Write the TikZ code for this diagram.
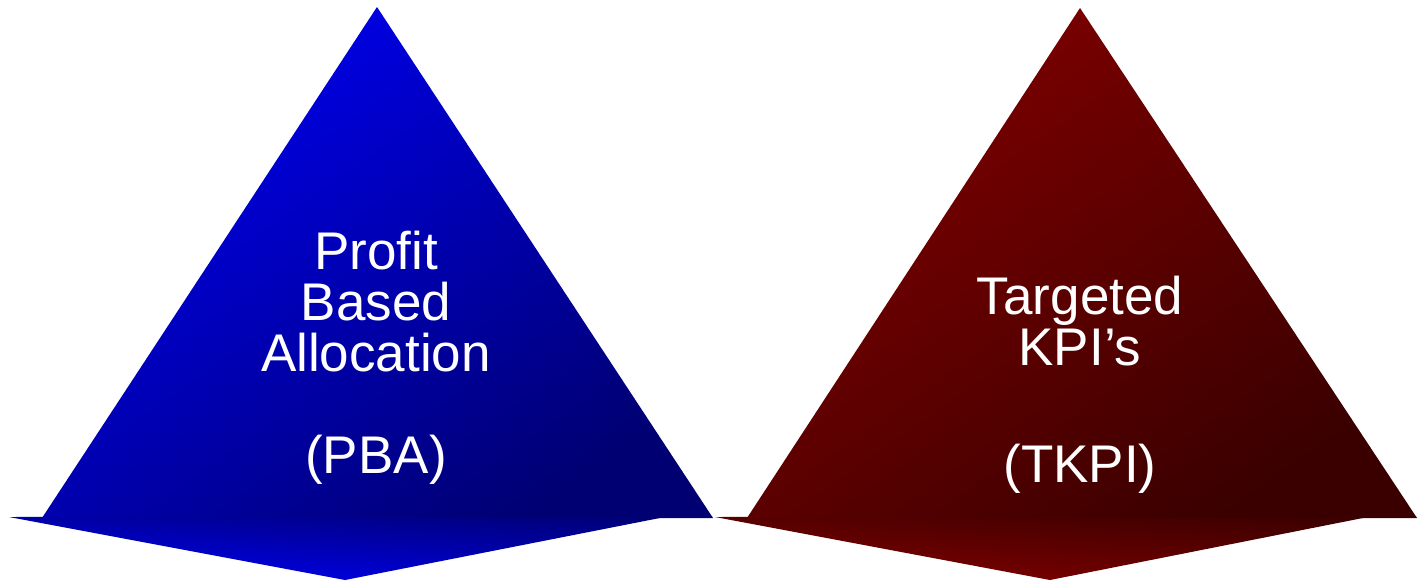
\documentclass[tikz,border=0pt]{standalone}
\usepackage{fontspec}
\setmainfont{Liberation Sans}
\usepackage{tikz}
\usetikzlibrary{positioning}
\definecolor{brightblue}{RGB}{0,0,240}
\definecolor{navy}{RGB}{0,0,115}
\definecolor{brightred}{RGB}{128,0,0}
\definecolor{darkred}{RGB}{58,0,0}

\begin{document}
\begin{tikzpicture}[x=1pt,y=-1pt,
bluetri/.style={top color=brightblue,bottom color=navy,shading angle=35},
bluebase/.style={top color=navy,bottom color=brightblue,shading angle=-4},
redtri/.style={top color=brightred,bottom color=darkred,shading angle=35},
redbase/.style={top color=darkred,bottom color=brightred,shading angle=-4},
word/.style={align=center,text=white,inner sep=0pt,font=\fontsize{53}{51}\selectfont}]
\useasboundingbox (0,0) rectangle (1422,582);
% left pyramid
\shade[bluebase] (9,517)--(713,516)--(670,516)--(345,580)--cycle;
\shade[bluetri] (377,7)--(713,518)--(42,518)--cycle;
% right pyramid
\shade[redbase] (715,517)--(1417,516)--(1373,516)--(1050,580)--cycle;
\shade[redtri] (1080,8)--(1417,518)--(747,518)--cycle;
\node[word,anchor=base] (pba) at (376,473) {Profit\\Based\\Allocation\\[51pt](PBA)};
\node[word,anchor=base] (tkpi) at (1080,482) {Targeted\\KPI’s\\[66pt](TKPI)};
\end{tikzpicture}
\end{document}
